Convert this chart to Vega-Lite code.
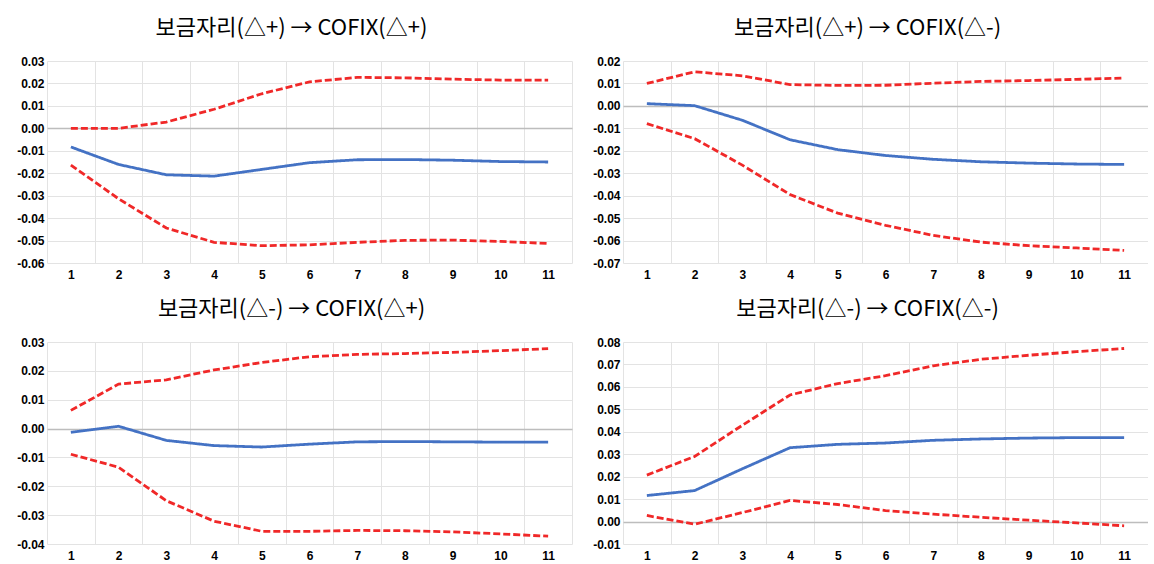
{
  "$schema": "https://vega.github.io/schema/vega-lite/v6.json",
  "background": "white",
  "padding": {"left": 11, "top": 17, "right": 0, "bottom": 0},
  "datasets": {
    "irf": [
      {"p":1,"h":1,"s":"upper","v":0.0},{"p":1,"h":2,"s":"upper","v":0.0},{"p":1,"h":3,"s":"upper","v":0.0028},{"p":1,"h":4,"s":"upper","v":0.0085},{"p":1,"h":5,"s":"upper","v":0.0154},{"p":1,"h":6,"s":"upper","v":0.0207},{"p":1,"h":7,"s":"upper","v":0.0227},{"p":1,"h":8,"s":"upper","v":0.0225},{"p":1,"h":9,"s":"upper","v":0.0219},{"p":1,"h":10,"s":"upper","v":0.0215},{"p":1,"h":11,"s":"upper","v":0.0215},
      {"p":1,"h":1,"s":"irf","v":-0.0083},{"p":1,"h":2,"s":"irf","v":-0.0161},{"p":1,"h":3,"s":"irf","v":-0.0207},{"p":1,"h":4,"s":"irf","v":-0.0213},{"p":1,"h":5,"s":"irf","v":-0.0183},{"p":1,"h":6,"s":"irf","v":-0.0153},{"p":1,"h":7,"s":"irf","v":-0.014},{"p":1,"h":8,"s":"irf","v":-0.0139},{"p":1,"h":9,"s":"irf","v":-0.0142},{"p":1,"h":10,"s":"irf","v":-0.0148},{"p":1,"h":11,"s":"irf","v":-0.015},
      {"p":1,"h":1,"s":"lower","v":-0.0164},{"p":1,"h":2,"s":"lower","v":-0.0314},{"p":1,"h":3,"s":"lower","v":-0.0444},{"p":1,"h":4,"s":"lower","v":-0.0508},{"p":1,"h":5,"s":"lower","v":-0.0523},{"p":1,"h":6,"s":"lower","v":-0.0519},{"p":1,"h":7,"s":"lower","v":-0.0508},{"p":1,"h":8,"s":"lower","v":-0.0499},{"p":1,"h":9,"s":"lower","v":-0.0498},{"p":1,"h":10,"s":"lower","v":-0.0504},{"p":1,"h":11,"s":"lower","v":-0.0513},

      {"p":2,"h":1,"s":"upper","v":0.01},{"p":2,"h":2,"s":"upper","v":0.0152},{"p":2,"h":3,"s":"upper","v":0.0134},{"p":2,"h":4,"s":"upper","v":0.0095},{"p":2,"h":5,"s":"upper","v":0.0091},{"p":2,"h":6,"s":"upper","v":0.0092},{"p":2,"h":7,"s":"upper","v":0.0101},{"p":2,"h":8,"s":"upper","v":0.0109},{"p":2,"h":9,"s":"upper","v":0.0113},{"p":2,"h":10,"s":"upper","v":0.0118},{"p":2,"h":11,"s":"upper","v":0.0124},
      {"p":2,"h":1,"s":"irf","v":0.001},{"p":2,"h":2,"s":"irf","v":0.0001},{"p":2,"h":3,"s":"irf","v":-0.0064},{"p":2,"h":4,"s":"irf","v":-0.0151},{"p":2,"h":5,"s":"irf","v":-0.0195},{"p":2,"h":6,"s":"irf","v":-0.0221},{"p":2,"h":7,"s":"irf","v":-0.0238},{"p":2,"h":8,"s":"irf","v":-0.0249},{"p":2,"h":9,"s":"irf","v":-0.0255},{"p":2,"h":10,"s":"irf","v":-0.0259},{"p":2,"h":11,"s":"irf","v":-0.0261},
      {"p":2,"h":1,"s":"lower","v":-0.0079},{"p":2,"h":2,"s":"lower","v":-0.0146},{"p":2,"h":3,"s":"lower","v":-0.0264},{"p":2,"h":4,"s":"lower","v":-0.0395},{"p":2,"h":5,"s":"lower","v":-0.0478},{"p":2,"h":6,"s":"lower","v":-0.0532},{"p":2,"h":7,"s":"lower","v":-0.0577},{"p":2,"h":8,"s":"lower","v":-0.0607},{"p":2,"h":9,"s":"lower","v":-0.0623},{"p":2,"h":10,"s":"lower","v":-0.0633},{"p":2,"h":11,"s":"lower","v":-0.0644},

      {"p":3,"h":1,"s":"upper","v":0.0063},{"p":3,"h":2,"s":"upper","v":0.0154},{"p":3,"h":3,"s":"upper","v":0.0169},{"p":3,"h":4,"s":"upper","v":0.0203},{"p":3,"h":5,"s":"upper","v":0.0229},{"p":3,"h":6,"s":"upper","v":0.0249},{"p":3,"h":7,"s":"upper","v":0.0257},{"p":3,"h":8,"s":"upper","v":0.026},{"p":3,"h":9,"s":"upper","v":0.0264},{"p":3,"h":10,"s":"upper","v":0.027},{"p":3,"h":11,"s":"upper","v":0.0277},
      {"p":3,"h":1,"s":"irf","v":-0.0013},{"p":3,"h":2,"s":"irf","v":0.0008},{"p":3,"h":3,"s":"irf","v":-0.0041},{"p":3,"h":4,"s":"irf","v":-0.0059},{"p":3,"h":5,"s":"irf","v":-0.0064},{"p":3,"h":6,"s":"irf","v":-0.0054},{"p":3,"h":7,"s":"irf","v":-0.0046},{"p":3,"h":8,"s":"irf","v":-0.0045},{"p":3,"h":9,"s":"irf","v":-0.0046},{"p":3,"h":10,"s":"irf","v":-0.0047},{"p":3,"h":11,"s":"irf","v":-0.0047},
      {"p":3,"h":1,"s":"lower","v":-0.0089},{"p":3,"h":2,"s":"lower","v":-0.0134},{"p":3,"h":3,"s":"lower","v":-0.025},{"p":3,"h":4,"s":"lower","v":-0.0321},{"p":3,"h":5,"s":"lower","v":-0.0356},{"p":3,"h":6,"s":"lower","v":-0.0356},{"p":3,"h":7,"s":"lower","v":-0.0353},{"p":3,"h":8,"s":"lower","v":-0.0354},{"p":3,"h":9,"s":"lower","v":-0.0358},{"p":3,"h":10,"s":"lower","v":-0.0365},{"p":3,"h":11,"s":"lower","v":-0.0373},

      {"p":4,"h":1,"s":"upper","v":0.0207},{"p":4,"h":2,"s":"upper","v":0.029},{"p":4,"h":3,"s":"upper","v":0.0429},{"p":4,"h":4,"s":"upper","v":0.0564},{"p":4,"h":5,"s":"upper","v":0.0615},{"p":4,"h":6,"s":"upper","v":0.065},{"p":4,"h":7,"s":"upper","v":0.0694},{"p":4,"h":8,"s":"upper","v":0.0723},{"p":4,"h":9,"s":"upper","v":0.0741},{"p":4,"h":10,"s":"upper","v":0.0757},{"p":4,"h":11,"s":"upper","v":0.0771},
      {"p":4,"h":1,"s":"irf","v":0.0116},{"p":4,"h":2,"s":"irf","v":0.0138},{"p":4,"h":3,"s":"irf","v":0.0235},{"p":4,"h":4,"s":"irf","v":0.0329},{"p":4,"h":5,"s":"irf","v":0.0344},{"p":4,"h":6,"s":"irf","v":0.035},{"p":4,"h":7,"s":"irf","v":0.0362},{"p":4,"h":8,"s":"irf","v":0.0368},{"p":4,"h":9,"s":"irf","v":0.0372},{"p":4,"h":10,"s":"irf","v":0.0374},{"p":4,"h":11,"s":"irf","v":0.0374},
      {"p":4,"h":1,"s":"lower","v":0.0027},{"p":4,"h":2,"s":"lower","v":-0.0012},{"p":4,"h":3,"s":"lower","v":0.004},{"p":4,"h":4,"s":"lower","v":0.0094},{"p":4,"h":5,"s":"lower","v":0.0076},{"p":4,"h":6,"s":"lower","v":0.0049},{"p":4,"h":7,"s":"lower","v":0.0033},{"p":4,"h":8,"s":"lower","v":0.0019},{"p":4,"h":9,"s":"lower","v":0.0006},{"p":4,"h":10,"s":"lower","v":-0.0006},{"p":4,"h":11,"s":"lower","v":-0.0019}
    ]
  },
  "data": {"name": "irf"},
  "columns": 2,
  "spacing": {"row": 18, "column": 15},
  "concat": [
    {
      "title": {"text": "보금자리(△+) → COFIX(△+)"},
      "width": 525, "height": 202,
      "transform": [{"filter": "datum.p === 1"}],
      "mark": {"type": "line", "strokeWidth": 2.8},
      "encoding": {
        "x": {"field": "h", "type": "ordinal", "scale": {"type": "band", "paddingInner": 0, "paddingOuter": 0}},
        "y": {"field": "v", "type": "quantitative", "scale": {"domain": [-0.06, 0.03], "nice": false}},
        "color": {"field": "s", "type": "nominal", "scale": {"domain": ["irf", "upper", "lower"], "range": ["#4472c4", "#f02828", "#f02828"]}, "legend": null},
        "strokeDash": {"field": "s", "type": "nominal", "scale": {"domain": ["irf", "upper", "lower"], "range": [[1, 0], [7, 3], [7, 3]]}, "legend": null}
      }
    },
    {
      "title": {"text": "보금자리(△+) → COFIX(△-)"},
      "width": 525, "height": 202,
      "transform": [{"filter": "datum.p === 2"}],
      "mark": {"type": "line", "strokeWidth": 2.8},
      "encoding": {
        "x": {"field": "h", "type": "ordinal", "scale": {"type": "band", "paddingInner": 0, "paddingOuter": 0}},
        "y": {"field": "v", "type": "quantitative", "scale": {"domain": [-0.07, 0.02], "nice": false}},
        "color": {"field": "s", "type": "nominal", "scale": {"domain": ["irf", "upper", "lower"], "range": ["#4472c4", "#f02828", "#f02828"]}, "legend": null},
        "strokeDash": {"field": "s", "type": "nominal", "scale": {"domain": ["irf", "upper", "lower"], "range": [[1, 0], [7, 3], [7, 3]]}, "legend": null}
      }
    },
    {
      "title": {"text": "보금자리(△-) → COFIX(△+)"},
      "width": 525, "height": 202,
      "transform": [{"filter": "datum.p === 3"}],
      "mark": {"type": "line", "strokeWidth": 2.8},
      "encoding": {
        "x": {"field": "h", "type": "ordinal", "scale": {"type": "band", "paddingInner": 0, "paddingOuter": 0}},
        "y": {"field": "v", "type": "quantitative", "scale": {"domain": [-0.04, 0.03], "nice": false}},
        "color": {"field": "s", "type": "nominal", "scale": {"domain": ["irf", "upper", "lower"], "range": ["#4472c4", "#f02828", "#f02828"]}, "legend": null},
        "strokeDash": {"field": "s", "type": "nominal", "scale": {"domain": ["irf", "upper", "lower"], "range": [[1, 0], [7, 3], [7, 3]]}, "legend": null}
      }
    },
    {
      "title": {"text": "보금자리(△-) → COFIX(△-)"},
      "width": 525, "height": 202,
      "transform": [{"filter": "datum.p === 4"}],
      "mark": {"type": "line", "strokeWidth": 2.8},
      "encoding": {
        "x": {"field": "h", "type": "ordinal", "scale": {"type": "band", "paddingInner": 0, "paddingOuter": 0}},
        "y": {"field": "v", "type": "quantitative", "scale": {"domain": [-0.01, 0.08], "nice": false}},
        "color": {"field": "s", "type": "nominal", "scale": {"domain": ["irf", "upper", "lower"], "range": ["#4472c4", "#f02828", "#f02828"]}, "legend": null},
        "strokeDash": {"field": "s", "type": "nominal", "scale": {"domain": ["irf", "upper", "lower"], "range": [[1, 0], [7, 3], [7, 3]]}, "legend": null}
      }
    }
  ],
  "config": {
    "locale": {"number": {"decimal": ".", "thousands": ",", "grouping": [3], "currency": ["$", ""], "minus": "-"}},
    "view": {"stroke": null},
    "title": {"font": "Noto Sans CJK KR", "fontSize": 22, "fontWeight": "normal", "color": "#000000", "anchor": "middle", "frame": "bounds", "offset": 15},
    "axisX": {
      "title": null, "labelAngle": 0, "ticks": false, "domain": false, "tickBand": "extent",
      "grid": true, "gridColor": "#e3e3e3",
      "labelFont": "Liberation Sans", "labelFontWeight": "bold", "labelFontSize": 12, "labelColor": "#000000", "labelPadding": 6
    },
    "axisY": {
      "title": null, "ticks": false, "domain": false, "tickCount": 8, "format": ".2f",
      "grid": true,
      "gridColor": {"condition": {"test": "datum.value === 0", "value": "#bdbdbd"}, "value": "#e3e3e3"},
      "gridWidth": {"condition": {"test": "datum.value === 0", "value": 1.5}, "value": 1},
      "labelFont": "Liberation Sans", "labelFontWeight": "bold", "labelFontSize": 12, "labelColor": "#000000", "labelPadding": 3,
      "minExtent": 36, "maxExtent": 36
    }
  }
}
